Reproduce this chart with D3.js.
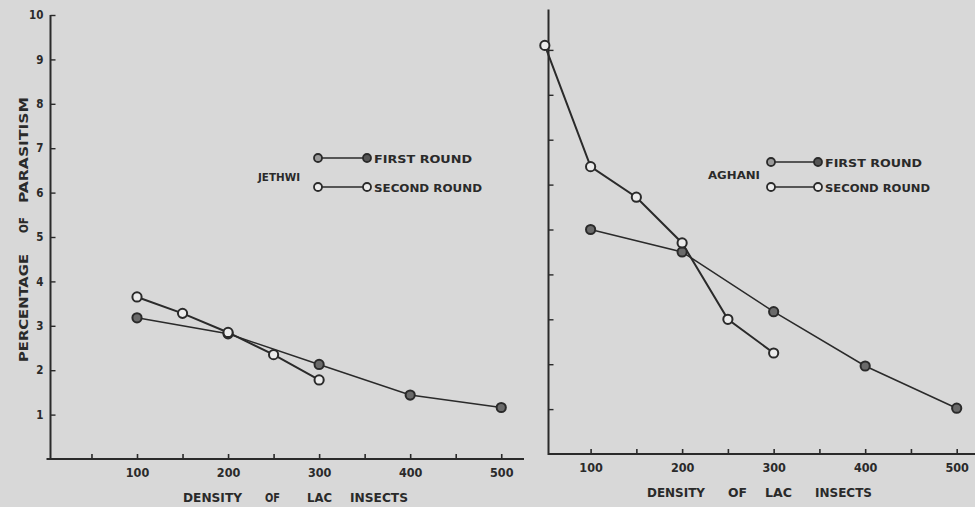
<!DOCTYPE html>
<html>
<head>
<meta charset="utf-8">
<script src="https://cdn.jsdelivr.net/npm/d3@7"></script>
<style>
  html, body { margin: 0; padding: 0; background: #d8d8d8; }
  svg { display: block; }
  text { font-family: "DejaVu Sans Condensed", "DejaVu Sans", sans-serif; font-weight: bold; fill: #2a2a2a; }
</style>
</head>
<body>
<svg id="chart" width="975" height="507"></svg>
<script>
// ---- data ----
const panelNames = ["JETHWI", "AGHANI"];
const seriesNames = ["FIRST ROUND", "SECOND ROUND"];
// Jethwi
const jethwiFirstX = [100, 200, 300, 400, 500];
const jethwiFirstY = [3.18, 2.82, 2.13, 1.44, 1.16];
const jethwiSecondX = [100, 150, 200, 250, 300];
const jethwiSecondY = [3.65, 3.28, 2.85, 2.35, 1.78];
// Aghani
const aghaniFirstX = [100, 200, 300, 400, 500];
const aghaniFirstY = [5.0, 4.5, 3.17, 1.96, 1.02];
const aghaniSecondX = [50, 100, 150, 200, 250, 300];
const aghaniSecondY = [9.1, 6.4, 5.72, 4.7, 3.0, 2.25];
// ticks
const yTickValues = [1, 2, 3, 4, 5, 6, 7, 8, 9, 10];
const xTickValuesLeft = [50, 100, 150, 200, 250, 300, 350, 400, 450, 500];
const xTickValuesRight = [100, 150, 200, 250, 300, 350, 400, 450, 500];
const xAxisTitleWords = ["DENSITY", "OF", "LAC", "INSECTS"];
const yAxisTitleWords = ["PERCENTAGE", "OF", "PARASITISM"];

const svg = d3.select("#chart");
const ink = "#2a2a2a";

function zip(xs, ys) { return xs.map((x, i) => ({ x, y: ys[i] })); }

const panels = [
  {
    name: panelNames[0],
    x: d3.scaleLinear().domain([5, 525]).range([50.5, 524]),
    y: d3.scaleLinear().domain([0, 10]).range([459, 15]),
    yTop: 10, yTickLabels: true, xTicks: xTickValuesLeft,
    first: zip(jethwiFirstX, jethwiFirstY),
    second: zip(jethwiSecondX, jethwiSecondY),
    label: { x: 258, y: 181, len: 42 },
    legend: { x1: 318, x2: 367, y1: 158, y2: 187, tx: 374, len1: 98, len2: 108 },
    xTitle: { y: 502, words: [[183, 59], [265, 15], [307, 25], [350, 58]] }
  },
  {
    name: panelNames[1],
    x: d3.scaleLinear().domain([54, 520]).range([548.5, 975]),
    y: d3.scaleLinear().domain([0, 10]).range([454, 5]),
    yTop: 9.9, yTickLabels: false, xTicks: xTickValuesRight,
    first: zip(aghaniFirstX, aghaniFirstY),
    second: zip(aghaniSecondX, aghaniSecondY),
    label: { x: 708, y: 179, len: 52 },
    legend: { x1: 771, x2: 818, y1: 162, y2: 187, tx: 825, len1: 97, len2: 105 },
    xTitle: { y: 497, words: [[647, 58], [728, 19], [765, 27], [815, 57]] }
  }
];

panels.forEach((p, pi) => {
  const g = svg.append("g");
  const x0 = p.x.range()[0];
  const y0 = p.y(0);

  // x axis
  const xAxis = d3.axisBottom(p.x)
    .tickValues(p.xTicks)
    .tickSize(-5)
    .tickPadding(9)
    .tickFormat(d => d % 100 === 0 ? d : "");
  const gx = g.append("g").attr("transform", `translate(0,${y0})`).call(xAxis);
  gx.select(".domain").remove();
  gx.selectAll("line").attr("stroke", ink).attr("stroke-width", 1.6);
  gx.selectAll("text").style("font-size", "12.5px").attr("fill", ink).attr("dy", "0.71em");
  g.append("line")
    .attr("x1", pi === 0 ? x0 - 4 : x0).attr("x2", p.x.range()[1])
    .attr("y1", y0).attr("y2", y0)
    .attr("stroke", ink).attr("stroke-width", 2);

  // y axis
  const yAxis = d3.axisLeft(p.y)
    .tickValues(p.yTickLabels ? yTickValues : yTickValues.slice(0, 9))
    .tickSize(-5)
    .tickPadding(7)
    .tickFormat(p.yTickLabels ? d3.format("d") : () => "");
  const gy = g.append("g").attr("transform", `translate(${x0},0)`).call(yAxis);
  gy.select(".domain").remove();
  gy.selectAll("line").attr("stroke", ink).attr("stroke-width", 1.4);
  gy.selectAll("text").style("font-size", "11.5px").attr("fill", ink);
  g.append("line")
    .attr("x1", x0).attr("x2", x0)
    .attr("y1", p.y(p.yTop)).attr("y2", y0 + 1)
    .attr("stroke", ink).attr("stroke-width", 2);

  // series lines
  const line = d3.line().x(d => p.x(d.x)).y(d => p.y(d.y));
  g.append("path").datum(p.first).attr("d", line)
    .attr("fill", "none").attr("stroke", ink).attr("stroke-width", 1.5);
  g.append("path").datum(p.second).attr("d", line)
    .attr("fill", "none").attr("stroke", ink).attr("stroke-width", 2);

  // markers
  g.selectAll(".m1").data(p.first).join("circle")
    .attr("cx", d => p.x(d.x)).attr("cy", d => p.y(d.y)).attr("r", 4.6)
    .attr("fill", "#6a6a6a").attr("stroke", ink).attr("stroke-width", 2);
  g.selectAll(".m2").data(p.second).join("circle")
    .attr("cx", d => p.x(d.x)).attr("cy", d => p.y(d.y)).attr("r", 4.6)
    .attr("fill", "#ececec").attr("stroke", ink).attr("stroke-width", 2);

  // panel name
  g.append("text").attr("x", p.label.x).attr("y", p.label.y)
    .attr("textLength", p.label.len).attr("lengthAdjust", "spacingAndGlyphs")
    .style("font-size", "11px").text(p.name);

  // legend
  const L = p.legend;
  [[L.y1, seriesNames[0], L.len1], [L.y2, seriesNames[1], L.len2]].forEach(([ly, txt, len], i) => {
    g.append("line").attr("x1", L.x1).attr("x2", L.x2).attr("y1", ly).attr("y2", ly)
      .attr("stroke", ink).attr("stroke-width", 1.6);
    [L.x1, L.x2].forEach((cx, j) => {
      g.append("circle").attr("cx", cx).attr("cy", ly).attr("r", 4)
        .attr("fill", i === 0 ? (j === 0 ? "#9a9a9a" : "#555") : "#ececec")
        .attr("stroke", ink).attr("stroke-width", 1.8);
    });
    g.append("text").attr("x", L.tx).attr("y", ly + 4.5)
      .attr("textLength", len).attr("lengthAdjust", "spacingAndGlyphs")
      .style("font-size", "11px").text(txt);
  });

  // x title, word by word
  xAxisTitleWords.forEach((w, i) => {
    const [wx, wl] = p.xTitle.words[i];
    g.append("text").attr("x", wx).attr("y", p.xTitle.y)
      .attr("textLength", wl).attr("lengthAdjust", "spacingAndGlyphs")
      .style("font-size", "13px").text(w);
  });
});

// y title (left panel only), word by word, reading bottom-to-top
const yWordPos = [[362, 108], [233, 16], [203, 106]];
yAxisTitleWords.forEach((w, i) => {
  const [wy, wl] = yWordPos[i];
  svg.append("text")
    .attr("transform", `translate(28,${wy}) rotate(-90)`)
    .attr("textLength", wl).attr("lengthAdjust", "spacingAndGlyphs")
    .style("font-size", "12px").text(w);
});
</script>
</body>
</html>
